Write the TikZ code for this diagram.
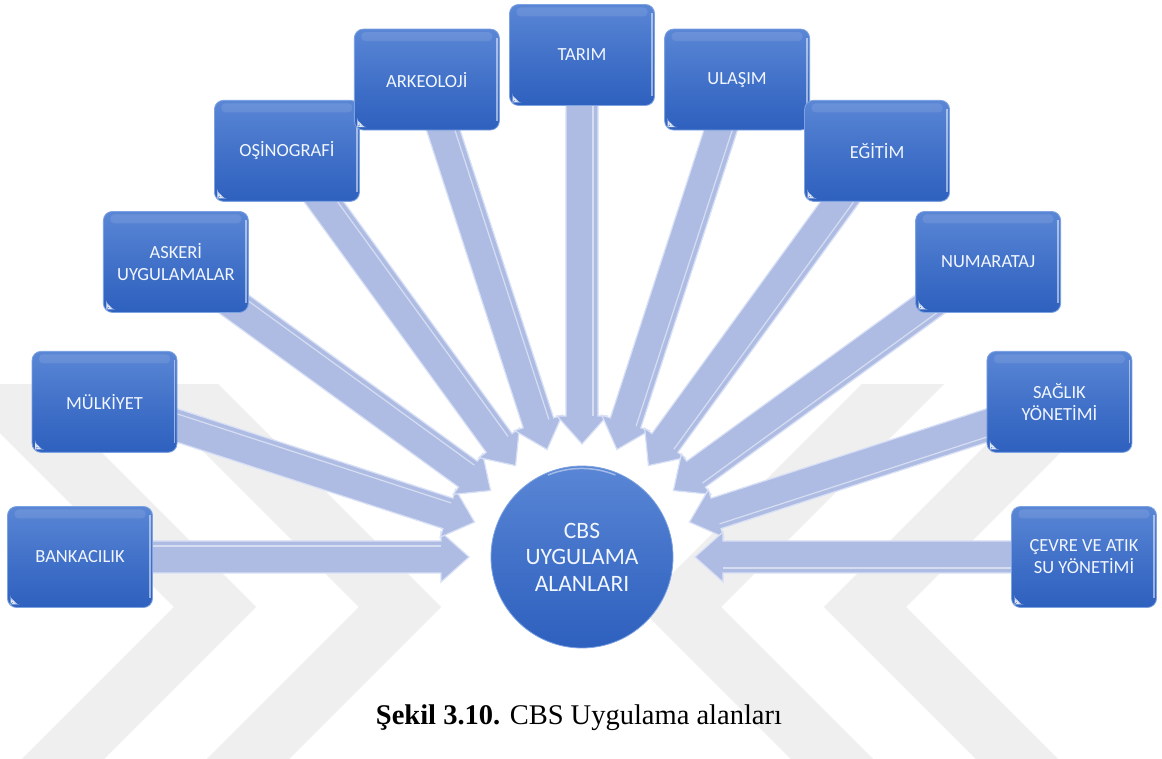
\documentclass[tikz,border=0pt]{standalone}
\usepackage{fontspec}
\setmainfont{Liberation Serif}
\newfontfamily\labelfont{Carlito}
\usetikzlibrary{calc}

\definecolor{boxtop}{RGB}{90,134,213}
\definecolor{boxmid}{RGB}{66,114,201}
\definecolor{boxbot}{RGB}{46,96,190}
\definecolor{boxedge}{RGB}{125,162,226}
\definecolor{arrowfill}{RGB}{174,188,228}
\definecolor{arrowlight}{RGB}{216,224,245}
\definecolor{wmark}{RGB}{239,239,239}
\definecolor{labeltext}{RGB}{242,246,255}

\pgfdeclarelayer{wm}
\pgfdeclarelayer{bg}
\pgfsetlayers{wm,bg,main}

\tikzset{
  area/.style={rounded corners=9pt, minimum width=145pt, minimum height=101pt,
    inner sep=0pt, align=center, text=labeltext,
    font=\labelfont\fontsize{18.5}{22}\selectfont,
    top color=boxtop, bottom color=boxbot, middle color=boxmid,
    draw=boxedge, line width=0.8pt,
    path picture={
      \fill[white,opacity=0.10,rounded corners=4pt]
        ([xshift=7pt,yshift=-3pt]path picture bounding box.north west)
        rectangle ([xshift=-7pt,yshift=-12pt]path picture bounding box.north east);
      \draw[white,opacity=0.5,line width=1.5pt]
        ([xshift=-2.5pt,yshift=-9pt]path picture bounding box.north east)
        -- ([xshift=-2.5pt,yshift=9pt]path picture bounding box.south east);
      \fill[white,opacity=0.85]
        ([xshift=3pt,yshift=3pt]path picture bounding box.south west)
        -- ++(7pt,0) -- ++(-7pt,7pt) -- cycle;
    }},
  hub/.style={circle, minimum size=182pt, inner sep=0pt, align=center,
    text=labeltext, font=\labelfont\fontsize{23.5}{26.5}\selectfont,
    top color=boxtop, bottom color=boxbot, middle color=boxmid,
    draw=boxedge, line width=0.8pt,
    path picture={
      \draw[white,opacity=0.45,line width=1.5pt]
        ([xshift=-34pt,yshift=-9pt]path picture bounding box.north)
        arc[start angle=112,end angle=68,radius=90pt];
      \draw[white,opacity=0.5,line width=1.5pt]
        ([xshift=12pt,yshift=-62pt]path picture bounding box.west)
        arc[start angle=215,end angle=240,radius=88pt];
    }},
  blockarrow/.style={fill=arrowfill, draw=arrowlight, line width=1.2pt, line join=miter},
  bevel/.style={draw=white, opacity=0.5, line width=1.2pt},
  wmstripe/.style={draw=wmark, line width=58pt, line join=miter}
}

% block arrow from an outer box towards the hub
\newcommand\spoke[1]{%
  \path ($(c)!141pt!(#1.center)$) coordinate (hb);
  \filldraw[blockarrow]
    ($(c)!113pt!(#1.center)$)
    -- ($(hb)!25pt!90:(#1.center)$)
    -- ($(hb)!16pt!90:(#1.center)$)
    -- ($(#1.center)!16pt!-90:(c)$)
    -- ($(#1.center)!16pt!90:(c)$)
    -- ($(hb)!16pt!-90:(#1.center)$)
    -- ($(hb)!25pt!-90:(#1.center)$)
    -- cycle;
  \draw[bevel]
    ($(hb)!11pt!-90:(#1.center)$) -- ($(#1.center)!11pt!90:(c)$);
}

\begin{document}
\begin{tikzpicture}[x=1pt,y=1pt]
  \useasboundingbox (0,0) rectangle (1162,758);
  \coordinate (c) at (582,201);

  % white page and faint watermark chevrons
  \begin{pgfonlayer}{wm}
    \fill[white] (0,0) rectangle (1162,758);
    \begin{scope}
      \clip (0,0) rectangle (1162,373);
      \foreach \vx in {215,400}
        \draw[wmstripe] (\vx-330,481) -- (\vx,151) -- (\vx-330,-179);
      \foreach \vx in {680,865}
        \draw[wmstripe] (\vx+330,481) -- (\vx,151) -- (\vx+330,-179);
    \end{scope}
  \end{pgfonlayer}

  % application areas on a half ring
  \foreach \ang/\nm/\txt in {
      180/bank/{BANKACILIK},
      162/mulk/{MÜLKİYET},
      144/asker/{ASKERİ\\UYGULAMALAR},
      126/osino/{OŞİNOGRAFİ},
      108/arkeo/{ARKEOLOJİ},
      90/tarim/{TARIM},
      72/ulasim/{ULAŞIM},
      54/egitim/{EĞİTİM},
      36/numara/{NUMARATAJ},
      18/saglik/{SAĞLIK\\YÖNETİMİ},
      0/cevre/{ÇEVRE VE ATIK\\SU YÖNETİMİ}}
    \node[area] (\nm) at ($(c)+(\ang:502)$) {\txt};

  % arrows pointing to the centre
  \begin{pgfonlayer}{bg}
    \foreach \nm in {bank,mulk,asker,osino,arkeo,tarim,ulasim,egitim,numara,saglik,cevre}
      {\spoke{\nm}}
  \end{pgfonlayer}

  \node[hub] (center) at (c) {CBS\\UYGULAMA\\ALANLARI};

  \node[anchor=base, font=\fontsize{28.5}{33}\selectfont] (caption) at (579,33.5)
    {\textbf{Şekil 3.10.} CBS Uygulama alanları};
\end{tikzpicture}
\end{document}
